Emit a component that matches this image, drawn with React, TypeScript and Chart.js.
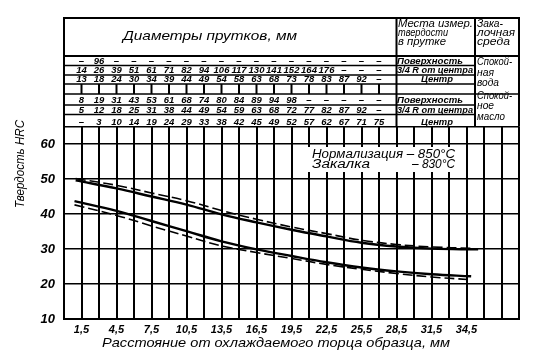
import React, { useEffect, useRef } from 'react';
import { Chart, registerables } from 'chart.js';

Chart.register(...registerables);

// ---------- data ----------
const distUpperSolid = [1.0, 4.5, 7.5, 10.5, 13.5, 16.5, 19.5, 22.5, 25.5, 28.5, 31.5, 35.5];
const hrcUpperSolid = [49.6, 47.3, 45.0, 42.7, 39.9, 37.6, 35.5, 33.6, 31.8, 30.7, 30.1, 29.9];

const distUpperDashed = [1.0, 4.5, 7.5, 10.5, 13.5, 16.5, 19.5, 22.5, 25.5, 28.5, 31.5, 35.0];
const hrcUpperDashed = [50.1, 48.2, 46.0, 43.8, 41.0, 38.5, 36.3, 34.4, 32.5, 31.3, 30.6, 30.2];

const distLowerSolid = [0.9, 4.5, 7.5, 10.5, 13.5, 16.5, 19.5, 22.5, 25.5, 28.5, 31.5, 34.9];
const hrcLowerSolid = [43.7, 40.9, 38.0, 35.1, 32.2, 29.9, 28.0, 26.2, 24.7, 23.6, 22.8, 22.2];

const distLowerDashed = [0.9, 4.5, 7.5, 10.5, 13.5, 16.5, 19.5, 22.5, 25.5, 28.5, 31.5, 34.6];
const hrcLowerDashed = [42.6, 39.6, 36.6, 33.7, 30.9, 29.0, 27.3, 25.6, 24.2, 23.0, 22.0, 21.3];

const xTickLabels = ['1,5', '4,5', '7,5', '10,5', '13,5', '16,5', '19,5', '22,5', '25,5', '28,5', '31,5', '34,5'];
const yTickValues = [10, 20, 30, 40, 50, 60];

// bar diameters table (null = dash)
const waterSurface = [null, 96, null, null, null, null, null, null, null, null, null, null, null, null, null, null, null, null];
const waterThreeQuarter = [14, 26, 39, 51, 61, 71, 82, 94, 106, 117, 130, 141, 152, 164, 176, null, null, null];
const waterCenter = [13, 18, 24, 30, 34, 39, 44, 49, 54, 58, 63, 68, 73, 78, 83, 87, 92, null];
const oilSurface = [8, 19, 31, 43, 53, 61, 68, 74, 80, 84, 89, 94, 98, null, null, null, null, null];
const oilThreeQuarter = [5, 12, 18, 25, 31, 38, 44, 49, 54, 59, 63, 68, 72, 77, 82, 87, 92, null];
const oilCenter = [null, 3, 10, 14, 19, 24, 29, 33, 38, 42, 45, 49, 52, 57, 62, 67, 71, 75];

const headerTitle = 'Диаметры прутков, мм';
const placeHeader = ['Места измер.', 'твердости', 'в прутке'];
const mediumHeader = ['Зака-', 'лочная', 'среда'];
const placeLabels = ['Поверхность', '3/4 R от центра', 'Центр'];
const waterLabel = ['Спокой-', 'ная', 'вода'];
const oilLabel = ['Спокой-', 'ное', 'масло'];
const noteLine1 = 'Нормализация – 850°С';
const noteLine2a = 'Закалка';
const noteLine2b = '– 830°С';
const xTitle = 'Расстояние от охлаждаемого торца образца, мм';
const yTitle = 'Твердость HRC';

const FONT = "'Liberation Sans', Arial, sans-serif";

function fitText(ctx: CanvasRenderingContext2D, text: string, x: number, y: number, width: number, align: CanvasTextAlign, font: string) {
  ctx.save();
  ctx.font = font;
  const m = ctx.measureText(text).width || 1;
  const s = width / m;
  ctx.translate(x, y);
  ctx.scale(s, 1);
  ctx.textAlign = align;
  ctx.textBaseline = 'alphabetic';
  ctx.fillStyle = '#000';
  ctx.fillText(text, 0, 0);
  ctx.restore();
}

function line(ctx: CanvasRenderingContext2D, x1: number, y1: number, x2: number, y2: number) {
  ctx.beginPath();
  ctx.moveTo(x1, y1);
  ctx.lineTo(x2, y2);
  ctx.stroke();
}

const tablePlugin = {
  id: 'hardnessTable',
  afterDraw(chart: any) {
    const ctx: CanvasRenderingContext2D = chart.ctx;
    const xs = chart.scales.x;
    const { left, right, top, bottom } = chart.chartArea;
    const px = (v: number) => xs.getPixelForValue(v);
    const xPlace = px(28.5);
    const xMedium = 475;
    const frameTop = 18;
    const headerBottom = 56;
    const rows = [headerBottom, 65.5, 75, 84, 94, 105, 114.5, top];

    ctx.save();
    ctx.strokeStyle = '#000';
    ctx.lineWidth = 2;
    line(ctx, left - 1, frameTop, right + 1, frameTop);
    line(ctx, left, frameTop, left, top);
    line(ctx, right, frameTop, right, top);
    line(ctx, left, headerBottom, right, headerBottom);
    line(ctx, xPlace, frameTop, xPlace, top);
    line(ctx, xMedium, frameTop, xMedium, top);
    ctx.lineWidth = 1.6;
    for (let r = 1; r < rows.length - 1; r++) {
      const yy = rows[r];
      line(ctx, left, yy, r === 4 ? right : xMedium, yy);
    }
    // blank row verticals
    ctx.lineWidth = 2;
    for (let k = 1; k <= 18; k++) {
      const xx = px(1.5 * k);
      line(ctx, xx, rows[3], xx, rows[4]);
    }
    ctx.restore();

    // header
    fitText(ctx, headerTitle, 123, 40, 174, 'left', `italic 13px ${FONT}`);
    const phY = [27, 36, 45];
    placeHeader.forEach((t, i) => fitText(ctx, t, 398, phY[i], [75, 50, 48][i], 'left', `italic 10.5px ${FONT}`));
    mediumHeader.forEach((t, i) => fitText(ctx, t, 477, phY[i], [26, 38, 33][i], 'left', `italic 10.5px ${FONT}`));

    // numbers
    const tables = [waterSurface, waterThreeQuarter, waterCenter, null, oilSurface, oilThreeQuarter, oilCenter];
    ctx.save();
    ctx.font = `italic bold 9.5px ${FONT}`;
    ctx.fillStyle = '#000';
    ctx.textAlign = 'center';
    ctx.textBaseline = 'alphabetic';
    tables.forEach((arr, r) => {
      if (!arr) return;
      const base = rows[r + 1] - 2;
      arr.forEach((v, k) => {
        const xx = px(1.5 * (k + 1));
        ctx.fillText(v === null ? '–' : String(v), xx, base);
      });
    });
    ctx.restore();

    // place labels
    const plW = [66, 76, 32];
    const groups = [0, 4];
    groups.forEach((g) => {
      placeLabels.forEach((t, i) => {
        const base = rows[g + i + 1] - 2;
        if (i === 2) fitText(ctx, t, 437, base, plW[i], 'center', `italic bold 9.5px ${FONT}`);
        else fitText(ctx, t, 397, base, plW[i], 'left', `italic bold 9.5px ${FONT}`);
      });
    });

    // medium labels
    const wY = [65, 75.5, 86];
    waterLabel.forEach((t, i) => fitText(ctx, t, 477, wY[i], [35, 17, 22][i], 'left', `italic 10px ${FONT}`));
    const oY = [99, 109, 119.5];
    oilLabel.forEach((t, i) => fitText(ctx, t, 477, oY[i], [35, 17, 28][i], 'left', `italic 10px ${FONT}`));

    // note box
    ctx.save();
    ctx.fillStyle = '#fff';
    ctx.fillRect(308, 147, 150, 25);
    ctx.restore();
    fitText(ctx, noteLine1, 312, 158, 143, 'left', `italic 12px ${FONT}`);
    fitText(ctx, noteLine2a, 312, 168, 58, 'left', `italic 12px ${FONT}`);
    fitText(ctx, noteLine2b, 455, 168, 43, 'right', `italic 12px ${FONT}`);

    // axis titles
    fitText(ctx, xTitle, 102, 347, 348, 'left', `italic 13px ${FONT}`);
    ctx.save();
    ctx.translate(24, 164);
    ctx.rotate(-Math.PI / 2);
    fitText(ctx, yTitle, 0, 0, 88, 'center', `italic 12px ${FONT}`);
    ctx.restore();
  },
};

function pts(xs: number[], ys: number[]) {
  return xs.map((x, i) => ({ x, y: ys[i] }));
}

export default function App() {
  const ref = useRef<HTMLCanvasElement | null>(null);
  useEffect(() => {
    if (!ref.current) return;
    const solid = { borderColor: '#000', borderWidth: 2.4, pointRadius: 0, tension: 0.4, fill: false };
    const dashed = { borderColor: '#000', borderWidth: 1.6, borderDash: [10, 4], pointRadius: 0, tension: 0.4, fill: false };
    const chart = new Chart(ref.current, {
      type: 'line',
      data: {
        datasets: [
          { label: 'upper solid', data: pts(distUpperSolid, hrcUpperSolid), ...solid },
          { label: 'upper dashed', data: pts(distUpperDashed, hrcUpperDashed), ...dashed },
          { label: 'lower solid', data: pts(distLowerSolid, hrcLowerSolid), ...solid },
          { label: 'lower dashed', data: pts(distLowerDashed, hrcLowerDashed), ...dashed },
        ],
      },
      options: {
        animation: false,
        responsive: false,
        devicePixelRatio: 1,
        layout: { padding: { top: 126.5, right: 19, left: 0, bottom: 0 } },
        plugins: { legend: { display: false }, tooltip: { enabled: false }, title: { display: false } },
        scales: {
          x: {
            type: 'linear',
            min: 0,
            max: 39,
            afterFit: (s: any) => { s.height = 38; },
            ticks: {
              stepSize: 1.5,
              autoSkip: false,
              maxRotation: 0,
              padding: 4,
              color: '#000',
              font: { family: FONT, size: 11, style: 'italic', weight: 'bold' },
              callback: (_v: any, i: number) => (i % 2 === 1 && xTickLabels[(i - 1) / 2] !== undefined ? xTickLabels[(i - 1) / 2] : ''),
            },
            grid: { color: '#000', lineWidth: 2, drawTicks: false },
            border: { color: '#000', width: 2 },
          },
          y: {
            type: 'linear',
            min: 10,
            max: 65,
            afterFit: (s: any) => { s.width = 64; },
            ticks: {
              stepSize: 10,
              padding: 9,
              color: '#000',
              font: { family: FONT, size: 13, style: 'italic', weight: 'bold' },
              callback: (v: any) => (yTickValues.includes(Number(v)) ? String(v) : ''),
            },
            grid: { color: '#000', lineWidth: 1.6, drawTicks: false },
            border: { color: '#000', width: 2 },
          },
        },
      },
      plugins: [tablePlugin],
    } as any);
    return () => chart.destroy();
  }, []);
  return (
    <div style={{ position: 'fixed', left: 0, top: 0, width: 538, height: 357, background: '#fff' }}>
      <canvas ref={ref} width={538} height={357} style={{ display: 'block' }} />
    </div>
  );
}
